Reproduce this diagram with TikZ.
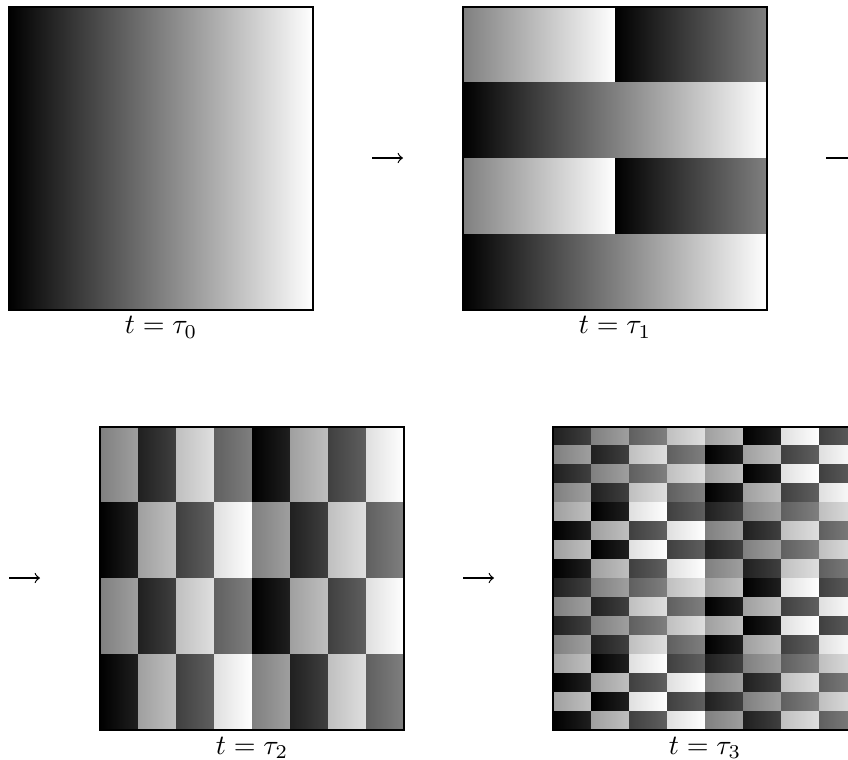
\documentclass[tikz,border=0pt]{standalone}
\begin{document}
\begin{tikzpicture}[x=0.357pt,y=-0.357pt,
  frame/.style={draw=black,line width=0.4pt},
  lab/.style={anchor=base,inner sep=0pt},
  flow/.style={-to,line width=0.45pt}]
\clip (0,0) rectangle (848,760);
% ---------- panel t = tau_0 ----------
\shade[left color=black,right color=white] (9,7) rectangle (313,310);
\draw[frame] (9,7) rectangle (313,310);
\node[lab] (l0) at (161,334) {$t=\tau_0$};
% ---------- panel t = tau_1 ----------
\foreach \y in {7,158.5}{
  \shade[left color=black!50,right color=white] (463,\y) rectangle (615.5,\y+76.25);
  \shade[left color=black,right color=black!50] (615,\y) rectangle (767,\y+76.25);
  \shade[left color=black,right color=white] (463,\y+75.75) rectangle (767,\y+152);
}
\draw[frame] (463,7) rectangle (767,310);
\node[lab] (l1) at (615,334) {$t=\tau_1$};
% ---------- panel t = tau_2 ----------
\foreach \r/\L in {0/{4,1,6,3,0,5,2,7},1/{0,5,2,7,4,1,6,3},2/{4,1,6,3,0,5,2,7},3/{0,5,2,7,4,1,6,3}}{
  \foreach \k [count=\c from 0] in \L {
    \pgfmathsetmacro\a{100-12.5*\k}
    \pgfmathsetmacro\b{100-12.5*(\k+1)}
    \shade[left color=black!\a,right color=black!\b]
      (100+38*\c,427+75.75*\r) rectangle (138.5+38*\c,503.25+75.75*\r);
  }
}
\draw[frame] (100,427) rectangle (404,730);
\node[lab] (l2) at (252,754) {$t=\tau_2$};
% ---------- panel t = tau_3 ----------
\foreach \r/\L in {0/{1,4,3,6,5,0,7,2},1/{4,1,6,3,0,5,2,7},2/{1,4,3,6,5,0,7,2},3/{4,1,6,3,0,5,2,7},
                   4/{5,0,7,2,1,4,3,6},5/{0,5,2,7,4,1,6,3},6/{5,0,7,2,1,4,3,6},7/{0,5,2,7,4,1,6,3},
                   8/{1,4,3,6,5,0,7,2},9/{4,1,6,3,0,5,2,7},10/{1,4,3,6,5,0,7,2},11/{4,1,6,3,0,5,2,7},
                   12/{5,0,7,2,1,4,3,6},13/{0,5,2,7,4,1,6,3},14/{5,0,7,2,1,4,3,6},15/{0,5,2,7,4,1,6,3}}{
  \foreach \k [count=\c from 0] in \L {
    \pgfmathsetmacro\a{100-12.5*\k}
    \pgfmathsetmacro\b{100-12.5*(\k+1)}
    \shade[left color=black!\a,right color=black!\b]
      (553+38*\c,427+18.9375*\r) rectangle (591.5+38*\c,446.4+18.9375*\r);
  }
}
\draw[frame] (553,427) rectangle (857,730);
\node[lab] (l3) at (705,754) {$t=\tau_3$};
% ---------- arrows ----------
\coordinate (a1s) at (372,158);  \coordinate (a1e) at (403,158);
\coordinate (a2s) at (826,158);  \coordinate (a2e) at (857,158);
\coordinate (a3s) at (9,578);    \coordinate (a3e) at (40,578);
\coordinate (a4s) at (463,578);  \coordinate (a4e) at (494,578);
\draw[flow] (a1s) -- (a1e);
\draw[flow] (a2s) -- (a2e);
\draw[flow] (a3s) -- (a3e);
\draw[flow] (a4s) -- (a4e);
\end{tikzpicture}
\end{document}
